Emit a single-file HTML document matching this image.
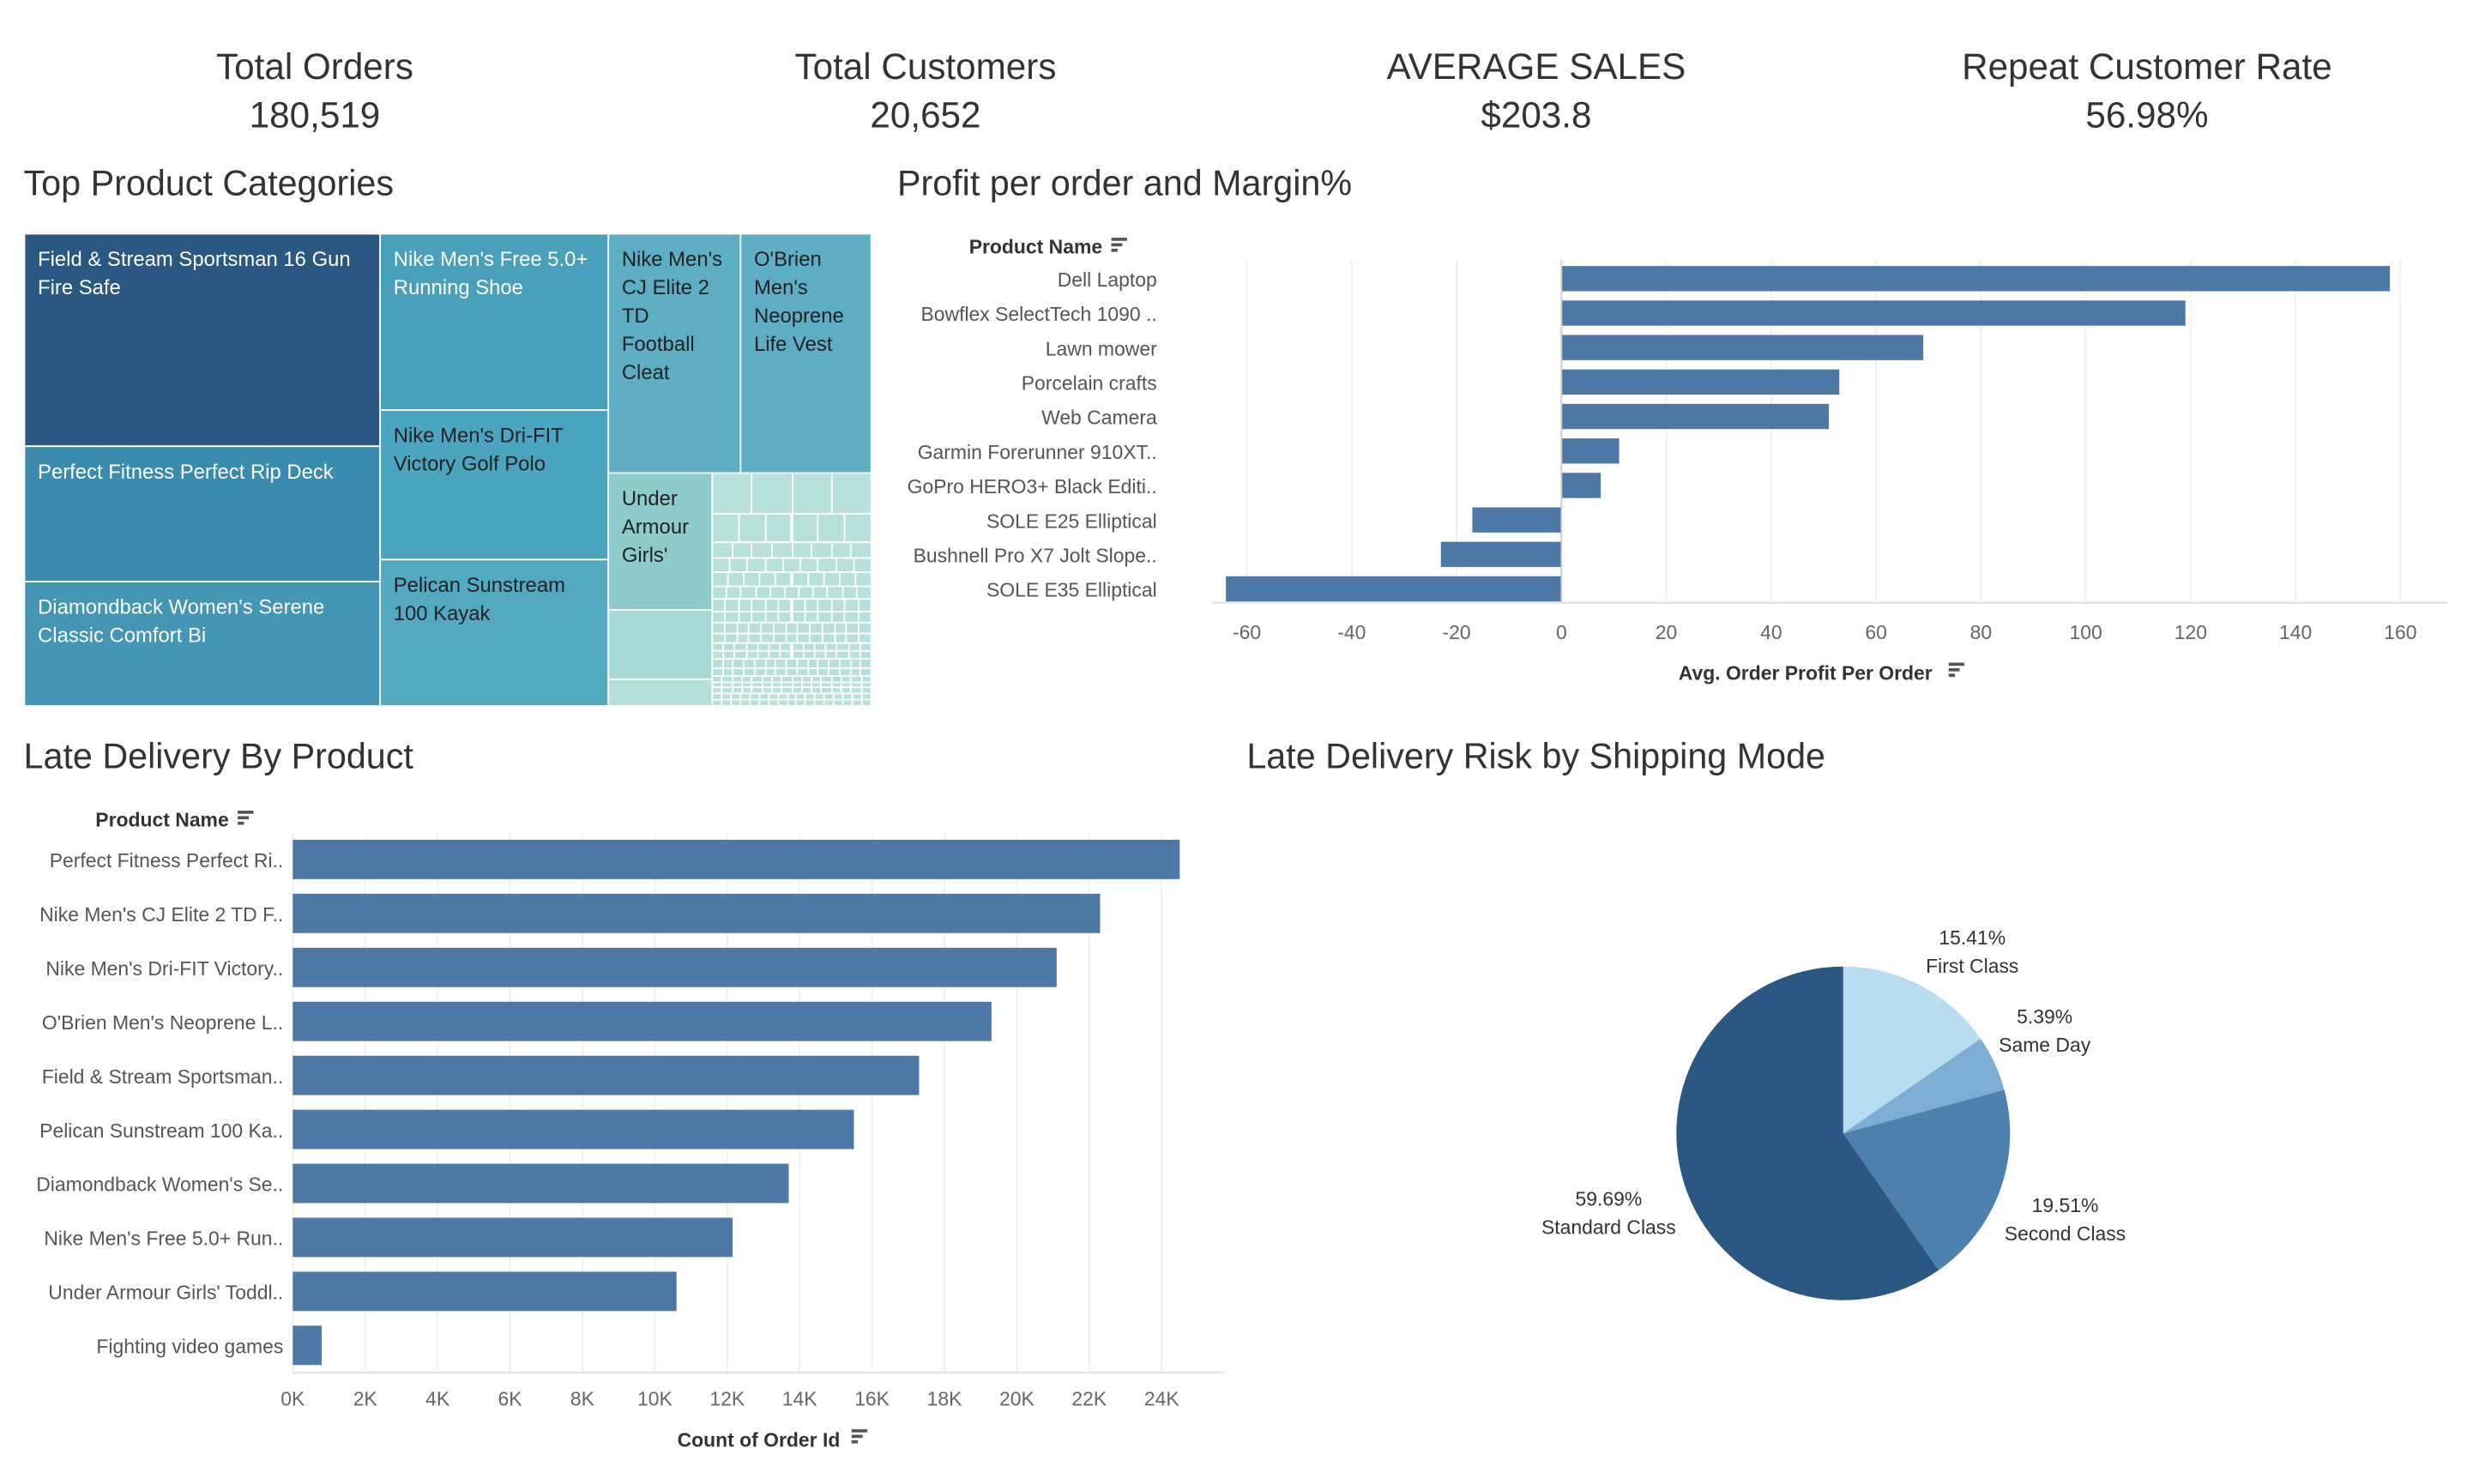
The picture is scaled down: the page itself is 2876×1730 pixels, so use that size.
<!DOCTYPE html>
<html><head><meta charset="utf-8">
<style>
html,body{margin:0;padding:0;background:#fff;width:2876px;height:1730px;overflow:hidden}
#root{position:absolute;left:0;top:0;width:1570px;height:943px;transform-origin:0 0;transform:scale(1.835,1.835);font-family:"Liberation Sans",sans-serif;color:#333}
.kpi{position:absolute;top:27px;width:300px;text-align:center;font-size:23px;line-height:31px;color:#333}
.sec{position:absolute;font-size:22.5px;color:#333}
.tm{position:absolute;box-sizing:border-box;border:1px solid #fff;font-size:13px;line-height:18px;color:#222;padding:7px 8px}
svg text{font-family:"Liberation Sans",sans-serif}
</style></head><body>
<div id="root">
<div class="kpi" style="left:50px">Total Orders<br>180,519</div>
<div class="kpi" style="left:438px">Total Customers<br>20,652</div>
<div class="kpi" style="left:826px">AVERAGE SALES<br>$203.8</div>
<div class="kpi" style="left:1214px">Repeat Customer Rate<br>56.98%</div>

<div class="sec" style="left:15px;top:104px">Top Product Categories</div>
<div class="sec" style="left:570px;top:104px">Profit per order and Margin%</div>
<div class="sec" style="left:15px;top:468px">Late Delivery By Product</div>
<div class="sec" style="left:792px;top:468px">Late Delivery Risk by Shipping Mode</div>

<div id="treemap">
<div class="tm" style="left:15px;top:148px;width:227px;height:136px;background:#2b5783;color:#fff">Field &amp; Stream Sportsman 16 Gun Fire Safe</div>
<div class="tm" style="left:15px;top:283px;width:227px;height:87px;background:#3a8bad;color:#fff">Perfect Fitness Perfect Rip Deck</div>
<div class="tm" style="left:15px;top:369px;width:227px;height:80px;background:#4396b4;color:#fff">Diamondback Women's Serene Classic Comfort Bi</div>
<div class="tm" style="left:241px;top:148px;width:146px;height:113px;background:#48a0bb;color:#fff">Nike Men's Free 5.0+ Running Shoe</div>
<div class="tm" style="left:241px;top:260px;width:146px;height:96px;background:#4ca5be">Nike Men's Dri-FIT Victory Golf Polo</div>
<div class="tm" style="left:241px;top:355px;width:146px;height:94px;background:#52a9c0">Pelican Sunstream 100 Kayak</div>
<div class="tm" style="left:386px;top:148px;width:85px;height:153px;background:#5daec3">Nike Men's CJ Elite 2 TD Football Cleat</div>
<div class="tm" style="left:470px;top:148px;width:84px;height:153px;background:#5daec3">O'Brien Men's Neoprene Life Vest</div>
<div class="tm" style="left:386px;top:300px;width:67px;height:88px;background:#8fcbcd">Under Armour Girls'</div>
<div class="tm" style="left:386px;top:387px;width:67px;height:45px;background:#a6d9d5"></div>
<div class="tm" style="left:386px;top:431px;width:67px;height:18px;background:#b5e0d9"></div>
</div>

<svg id="profit" style="position:absolute;left:0;top:0" width="1570" height="943"></svg>

<script>
const NS="http://www.w3.org/2000/svg";
function mk(p,t,a){const e=document.createElementNS(NS,t);for(const k in a)e.setAttribute(k,a[k]);p.appendChild(e);return e;}
const svg=document.getElementById('profit');

// small treemap tiles
const tmRowHeights=[20,14,8,7,7,6,6,6,5,5,4,4,4,4,3,3,3,3,3];
const tmRowCounts=[4,6,8,9,10,11,12,12,13,13,14,14,15,15,16,16,16,17,17];
const root=document.getElementById('treemap');
let ty=300;
for(let r=0;r<tmRowHeights.length;r++){
  const h=tmRowHeights[r]*148/ (tmRowHeights.reduce((a,b)=>a+b,0));
  const n=tmRowCounts[r];const w=101/n;
  for(let c=0;c<n;c++){
    const d=document.createElement('div');
    d.className='tm';
    d.style.cssText=`left:${452+c*w}px;top:${ty}px;width:${w+1}px;height:${h+1}px;background:#b8e1da;padding:0`;
    
    
    root.appendChild(d);
  }
  ty+=h;
}

// profit chart
const profitCats=["Dell Laptop","Bowflex SelectTech 1090 ..","Lawn mower","Porcelain crafts","Web Camera","Garmin Forerunner 910XT..","GoPro HERO3+ Black Editi..","SOLE E25 Elliptical","Bushnell Pro X7 Jolt Slope..","SOLE E35 Elliptical"];
const profitVals=[158,119,69,53,51,11,7.5,-17,-23,-64];
const profitTicks=[-60,-40,-20,0,20,40,60,80,100,120,140,160];
const px=v=>992+v*(533/160);
const pRow=i=>177+i*21.9;
const g1=mk(svg,'g',{});


profitTicks.forEach(t=>{
  const l=mk(g1,'line',{x1:px(t),x2:px(t),y1:165,y2:383,stroke:'#f0f0f0','stroke-width':1});
  
  
  const tx=mk(g1,'text',{x:px(t),y:406,'text-anchor':'middle','font-size':12.5,fill:'#666'});
  tx.textContent=t;
  
  
});
mk(g1,'line',{x1:770,x2:1555,y1:383,y2:383,stroke:'#e6e6e6','stroke-width':1.5});
profitCats.forEach((c,i)=>{
  const v=profitVals[i];
  const r=mk(g1,'rect',{x:Math.min(px(0),px(v)),y:pRow(i)-8,width:Math.abs(px(v)-px(0)),height:16,fill:'#4e79a7'});
  
  
  const tx=mk(g1,'text',{x:735,y:pRow(i)+5,'text-anchor':'end','font-size':12.5,fill:'#555'});
  tx.textContent=c;
  
  
});
mk(g1,'line',{x1:px(0),x2:px(0),y1:165,y2:383,stroke:'#ccc','stroke-width':1});
let t1=mk(g1,'text',{x:658,y:161,'text-anchor':'middle','font-size':12.5,'font-weight':'bold',fill:'#333'});t1.textContent='Product Name';


let t2=mk(g1,'text',{x:1147,y:432,'text-anchor':'middle','font-size':12.5,'font-weight':'bold',fill:'#333'});t2.textContent='Avg. Order Profit Per Order';


function sortIcon(x,y){[10,7,4].forEach((w,k)=>mk(svg,'rect',{x:x,y:y+k*3.5,width:w,height:2,fill:'#555'}));}
sortIcon(706,151);sortIcon(1238,421);

// late delivery chart
const lateCats=["Perfect Fitness Perfect Ri..","Nike Men's CJ Elite 2 TD F..","Nike Men's Dri-FIT Victory..","O'Brien Men's Neoprene L..","Field & Stream Sportsman..","Pelican Sunstream 100 Ka..","Diamondback Women's Se..","Nike Men's Free 5.0+ Run..","Under Armour Girls' Toddl..","Fighting video games"];
const lateVals=[24500,22300,21100,19300,17300,15500,13700,12150,10600,800];
const lateTicks=[0,2000,4000,6000,8000,10000,12000,14000,16000,18000,20000,22000,24000];
const lateTickLabels=["0K","2K","4K","6K","8K","10K","12K","14K","16K","18K","20K","22K","24K"];
const lx=v=>186+v*(552/24000);
const lRow=i=>546+i*34.3;
const g2=mk(svg,'g',{});


lateTicks.forEach((t,i)=>{
  const l=mk(g2,'line',{x1:lx(t),x2:lx(t),y1:530,y2:872,stroke:'#f0f0f0','stroke-width':1});
  
  
  const tx=mk(g2,'text',{x:lx(t),y:893,'text-anchor':'middle','font-size':12.5,fill:'#666'});
  tx.textContent=lateTickLabels[i];
  
  
});
mk(g2,'line',{x1:186,x2:778,y1:872,y2:872,stroke:'#e6e6e6','stroke-width':1.5});
lateCats.forEach((c,i)=>{
  const r=mk(g2,'rect',{x:lx(0),y:lRow(i)-12.5,width:lx(lateVals[i])-lx(0),height:25,fill:'#4e79a7'});
  
  
  const tx=mk(g2,'text',{x:180,y:lRow(i)+5,'text-anchor':'end','font-size':12.5,fill:'#555'});
  tx.textContent=c;
  
  
});
let t3=mk(g2,'text',{x:103,y:525,'text-anchor':'middle','font-size':12.5,'font-weight':'bold',fill:'#333'});t3.textContent='Product Name';


let t4=mk(g2,'text',{x:482,y:919,'text-anchor':'middle','font-size':12.5,'font-weight':'bold',fill:'#333'});t4.textContent='Count of Order Id';


sortIcon(151,515);sortIcon(541,908);

// pie
const pieCats=["First Class","Same Day","Second Class","Standard Class"];
const pieVals=[15.41,5.39,19.51,59.69];
const pieColors=["#b9dcef","#7eadd3","#4e80ae","#2b5783"];
const pieLabelPos=[[1253,600],[1299,650],[1312,770],[1022,766]];
const cx=1171,cy=720,R=106;
const g3=mk(svg,'g',{});


const tot=pieVals.reduce((a,b)=>a+b,0);
let a0=0;
pieVals.forEach((v,i)=>{
  const a1=a0+v/tot*2*Math.PI;
  const x0=cx+R*Math.sin(a0),y0=cy-R*Math.cos(a0),x1=cx+R*Math.sin(a1),y1=cy-R*Math.cos(a1);
  const large=(a1-a0)>Math.PI?1:0;
  const p=mk(g3,'path',{d:`M${cx},${cy}L${x0},${y0}A${R},${R} 0 ${large} 1 ${x1},${y1}Z`,fill:pieColors[i]});
  
  
  const [lxp,lyp]=pieLabelPos[i];
  const tx=mk(g3,'text',{x:lxp,y:lyp,'text-anchor':'middle','font-size':12.5,fill:'#333'});
  tx.textContent=v.toFixed(2)+'%';
  
  
  const tn=mk(g3,'text',{x:lxp,y:lyp+18,'text-anchor':'middle','font-size':12.5,fill:'#333'});
  tn.textContent=pieCats[i];
  
  
  a0=a1;
});
</script>
</div>
</body></html>
